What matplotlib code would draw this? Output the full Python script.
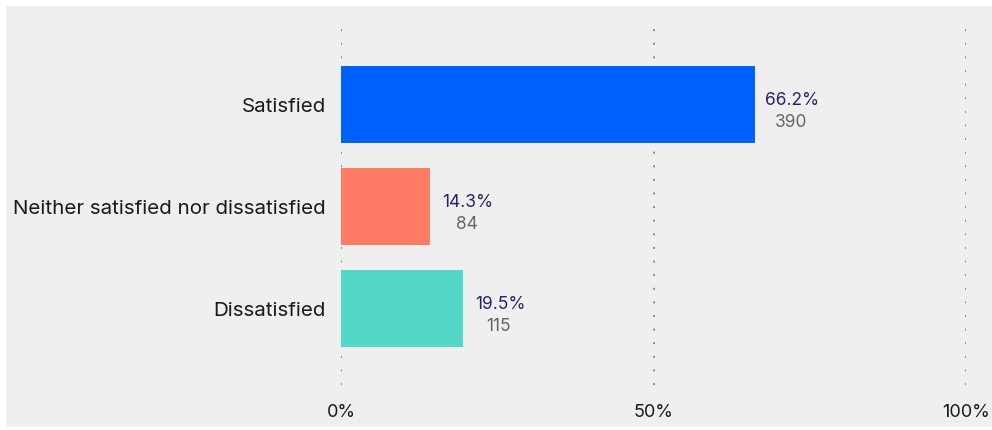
import numpy as np
import matplotlib
matplotlib.use("Agg")
from matplotlib import pyplot as plt
from matplotlib.patches import Rectangle

categories = ["Satisfied", "Neither satisfied nor dissatisfied", "Dissatisfied"]
shares = [66.2, 14.3, 19.5]
counts = [390, 84, 115]
colors = ["#0061FF", "#FF7B63", "#53D7C7"]
xticks = [0, 50, 100]
xtick_labels = ["0%", "50%", "100%"]

plt.rcParams['font.family'] = ['Inter', 'DejaVu Sans']

fig = plt.figure(figsize=(9.92, 4.30), dpi=100)
fig.patch.set_facecolor("white")
# grey panel behind the chart
fig.patches.append(Rectangle((6 / 992, 3 / 430), 1 - 6 / 992, 1 - 9 / 430,
                             transform=fig.transFigure, facecolor="#EFEFEF",
                             edgecolor="none", zorder=-10))

ax = fig.add_axes([341 / 992, 1 - 385 / 430, 625 / 992, 358 / 430])
ax.set_facecolor("none")

y = np.arange(len(categories))
ax.barh(y, shares, height=0.75, color=colors, zorder=3)

for yi, s, c in zip(y, shares, counts):
    ax.annotate("{:.1f}%".format(s), (s, yi), xytext=(27, 3),
                textcoords="offset points", ha="center", va="center",
                fontsize=12.5, color="#2B2266")
    ax.annotate("{}".format(c), (s, yi), xytext=(26, -13),
                textcoords="offset points", ha="center", va="center",
                fontsize=12.5, color="#666666")

ax.set_xlim(0, 100)
ax.set_ylim(2.75, -0.76)
ax.set_xticks(xticks)
ax.set_xticklabels(xtick_labels)
ax.set_yticks(y)
ax.set_yticklabels(categories)
ax.tick_params(axis="x", length=0, pad=14, labelsize=13, labelcolor="#1a1a1a")
ax.tick_params(axis="y", length=0, pad=11, labelsize=14.8, labelcolor="#1a1a1a")

ax.grid(axis="x", color="#888888", linestyle=(0, (1, 6)), linewidth=1.4, zorder=1)
ax.set_axisbelow(True)
for sp in ax.spines.values():
    sp.set_visible(False)

fig.savefig("out.png", dpi=100)
